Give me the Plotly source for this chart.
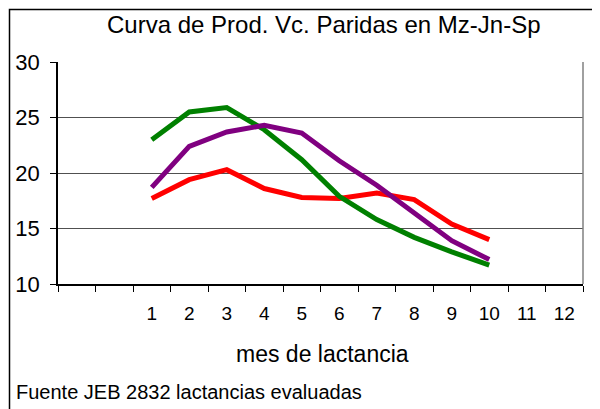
import plotly.graph_objects as go

months = [1, 2, 3, 4, 5, 6, 7, 8, 9, 10]
green_vals = [23.0, 25.5, 25.9, 23.9, 21.2, 17.9, 15.8, 14.2, 12.9, 11.7]
purple_vals = [18.7, 22.4, 23.7, 24.3, 23.6, 21.1, 18.9, 16.4, 13.9, 12.2]
red_vals = [17.7, 19.4, 20.3, 18.6, 17.8, 17.7, 18.2, 17.6, 15.4, 14.0]

x_tick_vals = [1, 2, 3, 4, 5, 6, 7, 8, 9, 10, 11, 12]
x_tick_text = [str(v) for v in x_tick_vals]
x_boundaries = [b - 0.5 for b in range(-1, 14)]  # -1.5 .. 12.5
y_tick_vals = [10, 15, 20, 25, 30]

title_text = "Curva de Prod. Vc. Paridas en Mz-Jn-Sp"
x_title = "mes de lactancia"
footer = "Fuente JEB 2832 lactancias evaluadas"

FONT = "Liberation Sans, Arial, sans-serif"

# page has an 8px body margin; figure is placed at (8, 8)
OFF = 8
W, H = 600 - OFF, 409 - OFF
L, R, T, B = 58 - OFF, 600 - 583, 62 - OFF, 409 - 284
pw, ph = W - L - R, H - T - B


def px(xp):
    return (xp - OFF - L) / pw


def py(yp):
    return (H - B - (yp - OFF)) / ph


fig = go.Figure()
fig.add_trace(go.Scatter(x=months, y=red_vals, mode="lines",
                         line=dict(color="#ff0000", width=5), showlegend=False))
fig.add_trace(go.Scatter(x=months, y=green_vals, mode="lines",
                         line=dict(color="#008000", width=5), showlegend=False))
fig.add_trace(go.Scatter(x=months, y=purple_vals, mode="lines",
                         line=dict(color="#800080", width=5), showlegend=False))

fig.update_layout(
    width=W, height=H,
    margin=dict(l=L, r=R, t=T, b=B, pad=0, autoexpand=False),
    paper_bgcolor="white", plot_bgcolor="white",
    font=dict(family=FONT, color="black"),
    showlegend=False,
    xaxis=dict(
        range=[-1.5, 12.5], automargin=False,
        tickmode="array", tickvals=x_tick_vals, ticktext=x_tick_text,
        ticks="", showgrid=False, zeroline=False,
        showline=True, linecolor="black", linewidth=1.5,
        tickfont=dict(size=19, family=FONT, color="black"),
        ticklabelstandoff=11,
        minor=dict(tickmode="array", tickvals=x_boundaries, ticks="outside",
                   ticklen=6, tickcolor="black", tickwidth=1, showgrid=False),
        fixedrange=True,
    ),
    yaxis=dict(
        range=[10, 30], automargin=False,
        tickmode="array", tickvals=y_tick_vals,
        ticks="outside", ticklen=6, tickcolor="black", tickwidth=1,
        showline=True, linecolor="black", linewidth=1.5,
        showgrid=True, gridcolor="#505050", gridwidth=1,
        zeroline=False,
        tickfont=dict(size=22, family=FONT, color="black"),
        ticklabelstandoff=6,
        fixedrange=True,
    ),
    shapes=[
        dict(type="line", xref="paper", yref="paper", x0=1, x1=1, y0=0, y1=1,
             line=dict(color="#808080", width=1.5)),
        dict(type="rect", xref="paper", yref="paper",
             x0=px(9.5), x1=px(620), y0=py(430), y1=py(9.5),
             line=dict(color="black", width=1.5), fillcolor="rgba(0,0,0,0)"),
    ],
    annotations=[
        dict(text=title_text, xref="paper", yref="paper", x=px(324), y=py(25),
             xanchor="center", yanchor="middle", showarrow=False,
             font=dict(size=24, family=FONT, color="black")),
        dict(text=x_title, xref="paper", yref="paper", x=px(322), y=py(354),
             xanchor="center", yanchor="middle", showarrow=False,
             font=dict(size=23, family=FONT, color="black")),
        dict(text=footer, xref="paper", yref="paper", x=px(14), y=py(392),
             xanchor="left", yanchor="middle", showarrow=False,
             font=dict(size=20, family=FONT, color="black")),
    ],
)

fig.write_html("out.html", config={"displayModeBar": False})
